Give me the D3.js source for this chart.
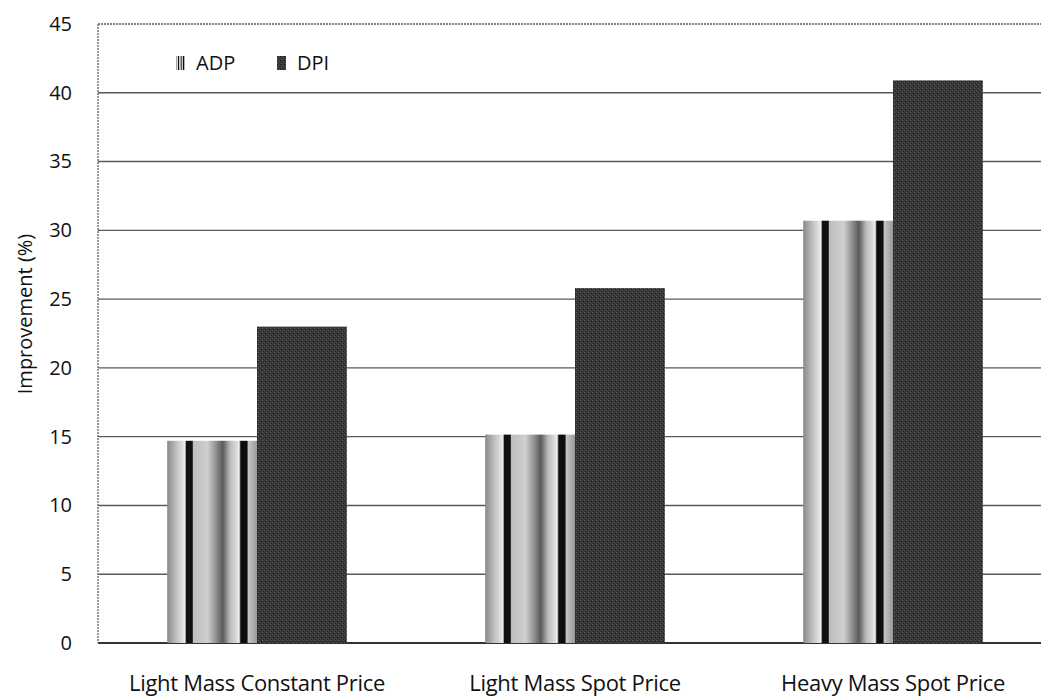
<!DOCTYPE html>
<html>
<head>
<meta charset="utf-8">
<script src="https://cdn.jsdelivr.net/npm/d3@7"></script>
<style>
  body { margin: 0; background: #fff; }
  text { font-family: 'Open Sans', sans-serif; fill: #111; }
</style>
</head>
<body>
<div id="chart"></div>
<script>
let categories = ["Light Mass Constant Price", "Light Mass Spot Price", "Heavy Mass Spot Price"];
let seriesNames = ["ADP", "DPI"];
let adpValues = [14.7, 15.15, 30.7];
let dpiValues = [23.0, 25.8, 40.9];
let yTicks = [0, 5, 10, 15, 20, 25, 30, 35, 40, 45];

let rows = categories.map(function (c, i) {
    return { cat: c, ADP: adpValues[i], DPI: dpiValues[i] };
});

let margin = { top: 24, right: -11, bottom: 53, left: 98 },
    width = 1041 - margin.left - margin.right,
    height = 696 - margin.top - margin.bottom;

let svg = d3.select("#chart")
    .append("svg")
    .attr("width", 1041)
    .attr("height", 696);

let defs = svg.append("defs");

// striped "cylinder" look for ADP bars
let stripe = defs.append("linearGradient")
    .attr("id", "adpGrad")
    .attr("x1", "0").attr("x2", "1").attr("y1", "0").attr("y2", "0");
[
    [0.00, "#8a8a8a"], [0.12, "#c8c8c8"], [0.19, "#e6e6e6"],
    [0.20, "#ffffff"], [0.21, "#111"], [0.28, "#111"], [0.29, "#bdbdbd"],
    [0.45, "#cfcfcf"], [0.55, "#8c8c8c"], [0.62, "#5a5a5a"], [0.70, "#bbbbbb"],
    [0.79, "#e2e2e2"], [0.80, "#fff"], [0.82, "#0d0d0d"], [0.89, "#0d0d0d"],
    [0.90, "#c4c4c4"], [1.00, "#9a9a9a"]
].forEach(function (s) {
    stripe.append("stop").attr("offset", s[0]).attr("stop-color", s[1]);
});

// speckled texture for DPI bars
let speck = defs.append("pattern")
    .attr("id", "dpiPat")
    .attr("patternUnits", "userSpaceOnUse")
    .attr("width", 4).attr("height", 4);
speck.append("rect").attr("width", 4).attr("height", 4).attr("fill", "#363636");
speck.append("rect").attr("x", 0).attr("y", 0).attr("width", 1).attr("height", 1).attr("fill", "#606060");
speck.append("rect").attr("x", 2).attr("y", 2).attr("width", 1).attr("height", 1).attr("fill", "#555");
speck.append("rect").attr("x", 3).attr("y", 1).attr("width", 1).attr("height", 1).attr("fill", "#1c1c1c");

let fills = { ADP: "url(#adpGrad)", DPI: "url(#dpiPat)" };

let g = svg.append("g")
    .attr("transform", "translate(" + margin.left + "," + margin.top + ")");

let x0 = d3.scaleBand()
    .domain(categories)
    .range([0, width])
    .padding(0);

let x1 = d3.scaleBand()
    .domain(seriesNames)
    .range([0, x0.bandwidth()])
    .paddingInner(0)
    .paddingOuter(0.77);

let y = d3.scaleLinear()
    .domain([0, 45])
    .range([height, 0]);

// gridlines
g.append("g")
    .selectAll("line")
    .data(yTicks)
    .enter()
    .append("line")
    .attr("x1", 0)
    .attr("x2", width)
    .attr("y1", d => y(d))
    .attr("y2", d => y(d))
    .attr("stroke", d => d === 0 ? "#333" : "#5a5a5a")
    .attr("stroke-width", d => d === 0 ? 2 : 1.4)
    .attr("stroke-dasharray", d => d === 45 ? "2,1" : null);

// left border
g.append("line")
    .attr("x1", 0).attr("x2", 0)
    .attr("y1", 0).attr("y2", height)
    .attr("stroke", "#777")
    .attr("stroke-width", 1.5)
    .attr("stroke-dasharray", "2,1");

// y axis labels
let yAxis = g.append("g")
    .call(d3.axisLeft(y).tickValues(yTicks).tickSize(0).tickPadding(26));
yAxis.select(".domain").remove();
yAxis.selectAll("text")
    .style("font-family", "'Open Sans', sans-serif")
    .style("font-size", "20px")
    .attr("fill", "#111");

// bars
g.append("g")
    .selectAll("g")
    .data(rows)
    .enter()
    .append("g")
    .attr("transform", d => "translate(" + x0(d.cat) + ",0)")
    .selectAll("rect")
    .data(d => seriesNames.map(k => ({ key: k, value: d[k] })))
    .enter()
    .append("rect")
    .attr("x", d => x1(d.key))
    .attr("width", x1.bandwidth())
    .attr("y", d => y(d.value))
    .attr("height", d => height - y(d.value))
    .attr("fill", d => fills[d.key]);

// category labels
g.append("g")
    .selectAll("text")
    .data(categories)
    .enter()
    .append("text")
    .attr("x", d => x0(d) + x0.bandwidth() / 2)
    .attr("y", height + 48)
    .attr("text-anchor", "middle")
    .style("font-size", "22px")
    .style("letter-spacing", "-0.3px")
    .text(d => d);

// axis title
svg.append("text")
    .attr("transform", "rotate(-90)")
    .attr("x", -314)
    .attr("y", 32)
    .attr("text-anchor", "middle")
    .style("font-size", "20px")
    .text("Improvement (%)");

// legend
let legend = g.append("g")
    .attr("transform", "translate(78,39)");
let li = legend.selectAll("g")
    .data(seriesNames)
    .enter()
    .append("g")
    .attr("transform", (d, i) => "translate(" + (i * 101) + ",0)");
li.append("rect")
    .attr("x", 0).attr("y", -7)
    .attr("width", 9).attr("height", 14)
    .attr("fill", d => fills[d]);
li.append("text")
    .attr("x", 20)
    .attr("y", 0)
    .attr("dy", "0.36em")
    .style("font-size", "20px")
    .text(d => d);
</script>
</body>
</html>
